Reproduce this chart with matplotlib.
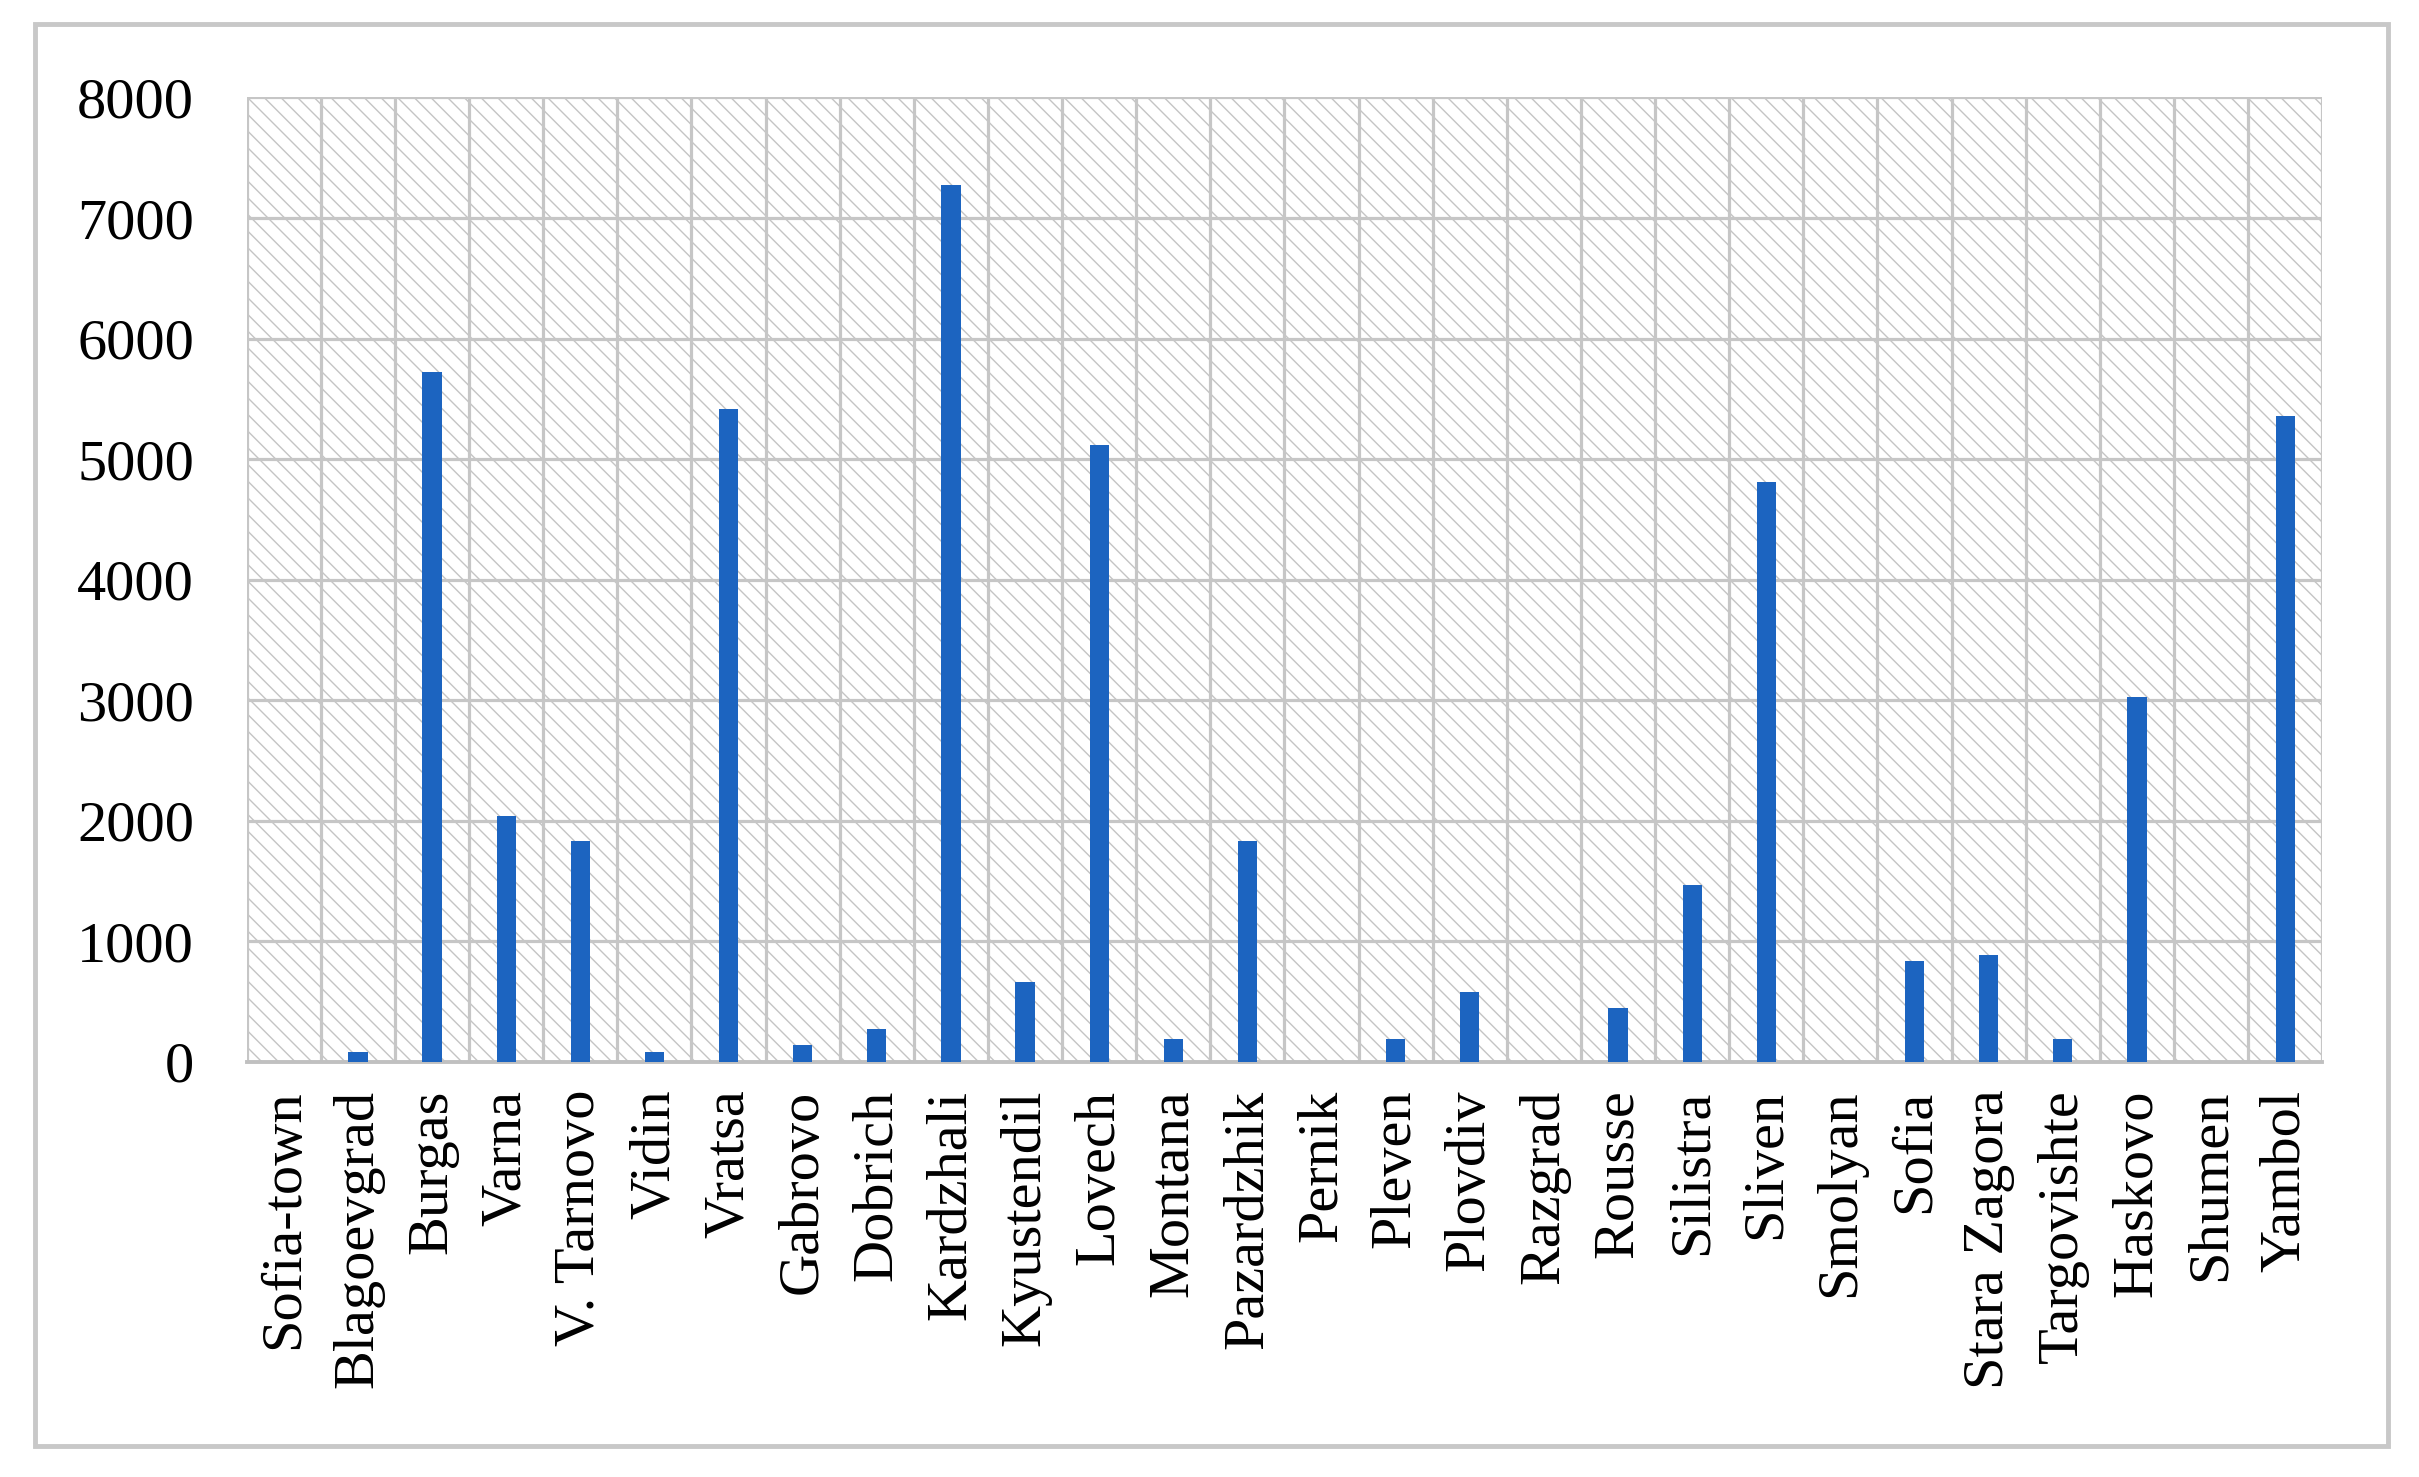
import matplotlib
matplotlib.use("Agg")
import matplotlib.pyplot as plt
from matplotlib.patches import Rectangle
import numpy as np

regions = ["Sofia-town", "Blagoevgrad", "Burgas", "Varna", "V. Tarnovo", "Vidin",
           "Vratsa", "Gabrovo", "Dobrich", "Kardzhali", "Kyustendil", "Lovech",
           "Montana", "Pazardzhik", "Pernik", "Pleven", "Plovdiv", "Razgrad",
           "Rousse", "Silistra", "Sliven", "Smolyan", "Sofia", "Stara Zagora",
           "Targovishte", "Haskovo", "Shumen", "Yambol"]
values = [0, 80, 5720, 2040, 1830, 80, 5420, 140, 270, 7270, 660, 5120,
          190, 1830, 0, 190, 580, 0, 450, 1470, 4810, 0, 840, 890,
          190, 3030, 0, 5360]
y_ticks = [0, 1000, 2000, 3000, 4000, 5000, 6000, 7000, 8000]

plt.rcParams['font.family'] = ['Liberation Serif', 'DejaVu Serif']
plt.rcParams['hatch.linewidth'] = 1.0
plt.rcParams['hatch.color'] = '#c4c4c4'

fig = plt.figure(figsize=(24.19, 14.77), dpi=100)
fig.patch.set_facecolor('white')
fig.patches.append(Rectangle((0.0145, 0.021), 0.9725, 0.963, transform=fig.transFigure,
                             fill=False, edgecolor='#c8c8c8', linewidth=3.5, zorder=0))

ax = fig.add_axes([0.102, 0.281, 0.858, 0.653])
x = np.arange(len(regions))

ax.add_patch(Rectangle((0, 0), 1, 1, transform=ax.transAxes, facecolor='white',
                       edgecolor='#c4c4c4', hatch='\\\\', linewidth=0, zorder=0))

ax.bar(x, values, width=0.26, color='#1c64c0', zorder=3)

ax.set_xlim(-0.5, len(regions) - 0.5)
ax.set_ylim(0, 8000)
ax.set_yticks(y_ticks)
ax.set_yticklabels([str(v) for v in y_ticks], fontsize=42)
ax.set_xticks(x)
ax.set_xticklabels(regions, rotation=90, fontsize=42)
ax.set_xticks(np.arange(-0.5, len(regions), 1.0), minor=True)

ax.tick_params(axis='both', which='both', length=0)
ax.tick_params(axis='y', pad=38)
ax.tick_params(axis='x', pad=20)

ax.grid(True, axis='y', which='major', color='#c6c6c6', linewidth=2.3, zorder=1)
ax.grid(True, axis='x', which='minor', color='#c6c6c6', linewidth=2.3, zorder=1)
ax.grid(False, axis='x', which='major')
ax.set_axisbelow(True)

for s in ['top', 'right', 'left']:
    ax.spines[s].set_visible(False)
ax.spines['bottom'].set_color('#c0c0c0')
ax.spines['bottom'].set_linewidth(2.8)

fig.savefig('out.png', dpi=100, facecolor='white')
